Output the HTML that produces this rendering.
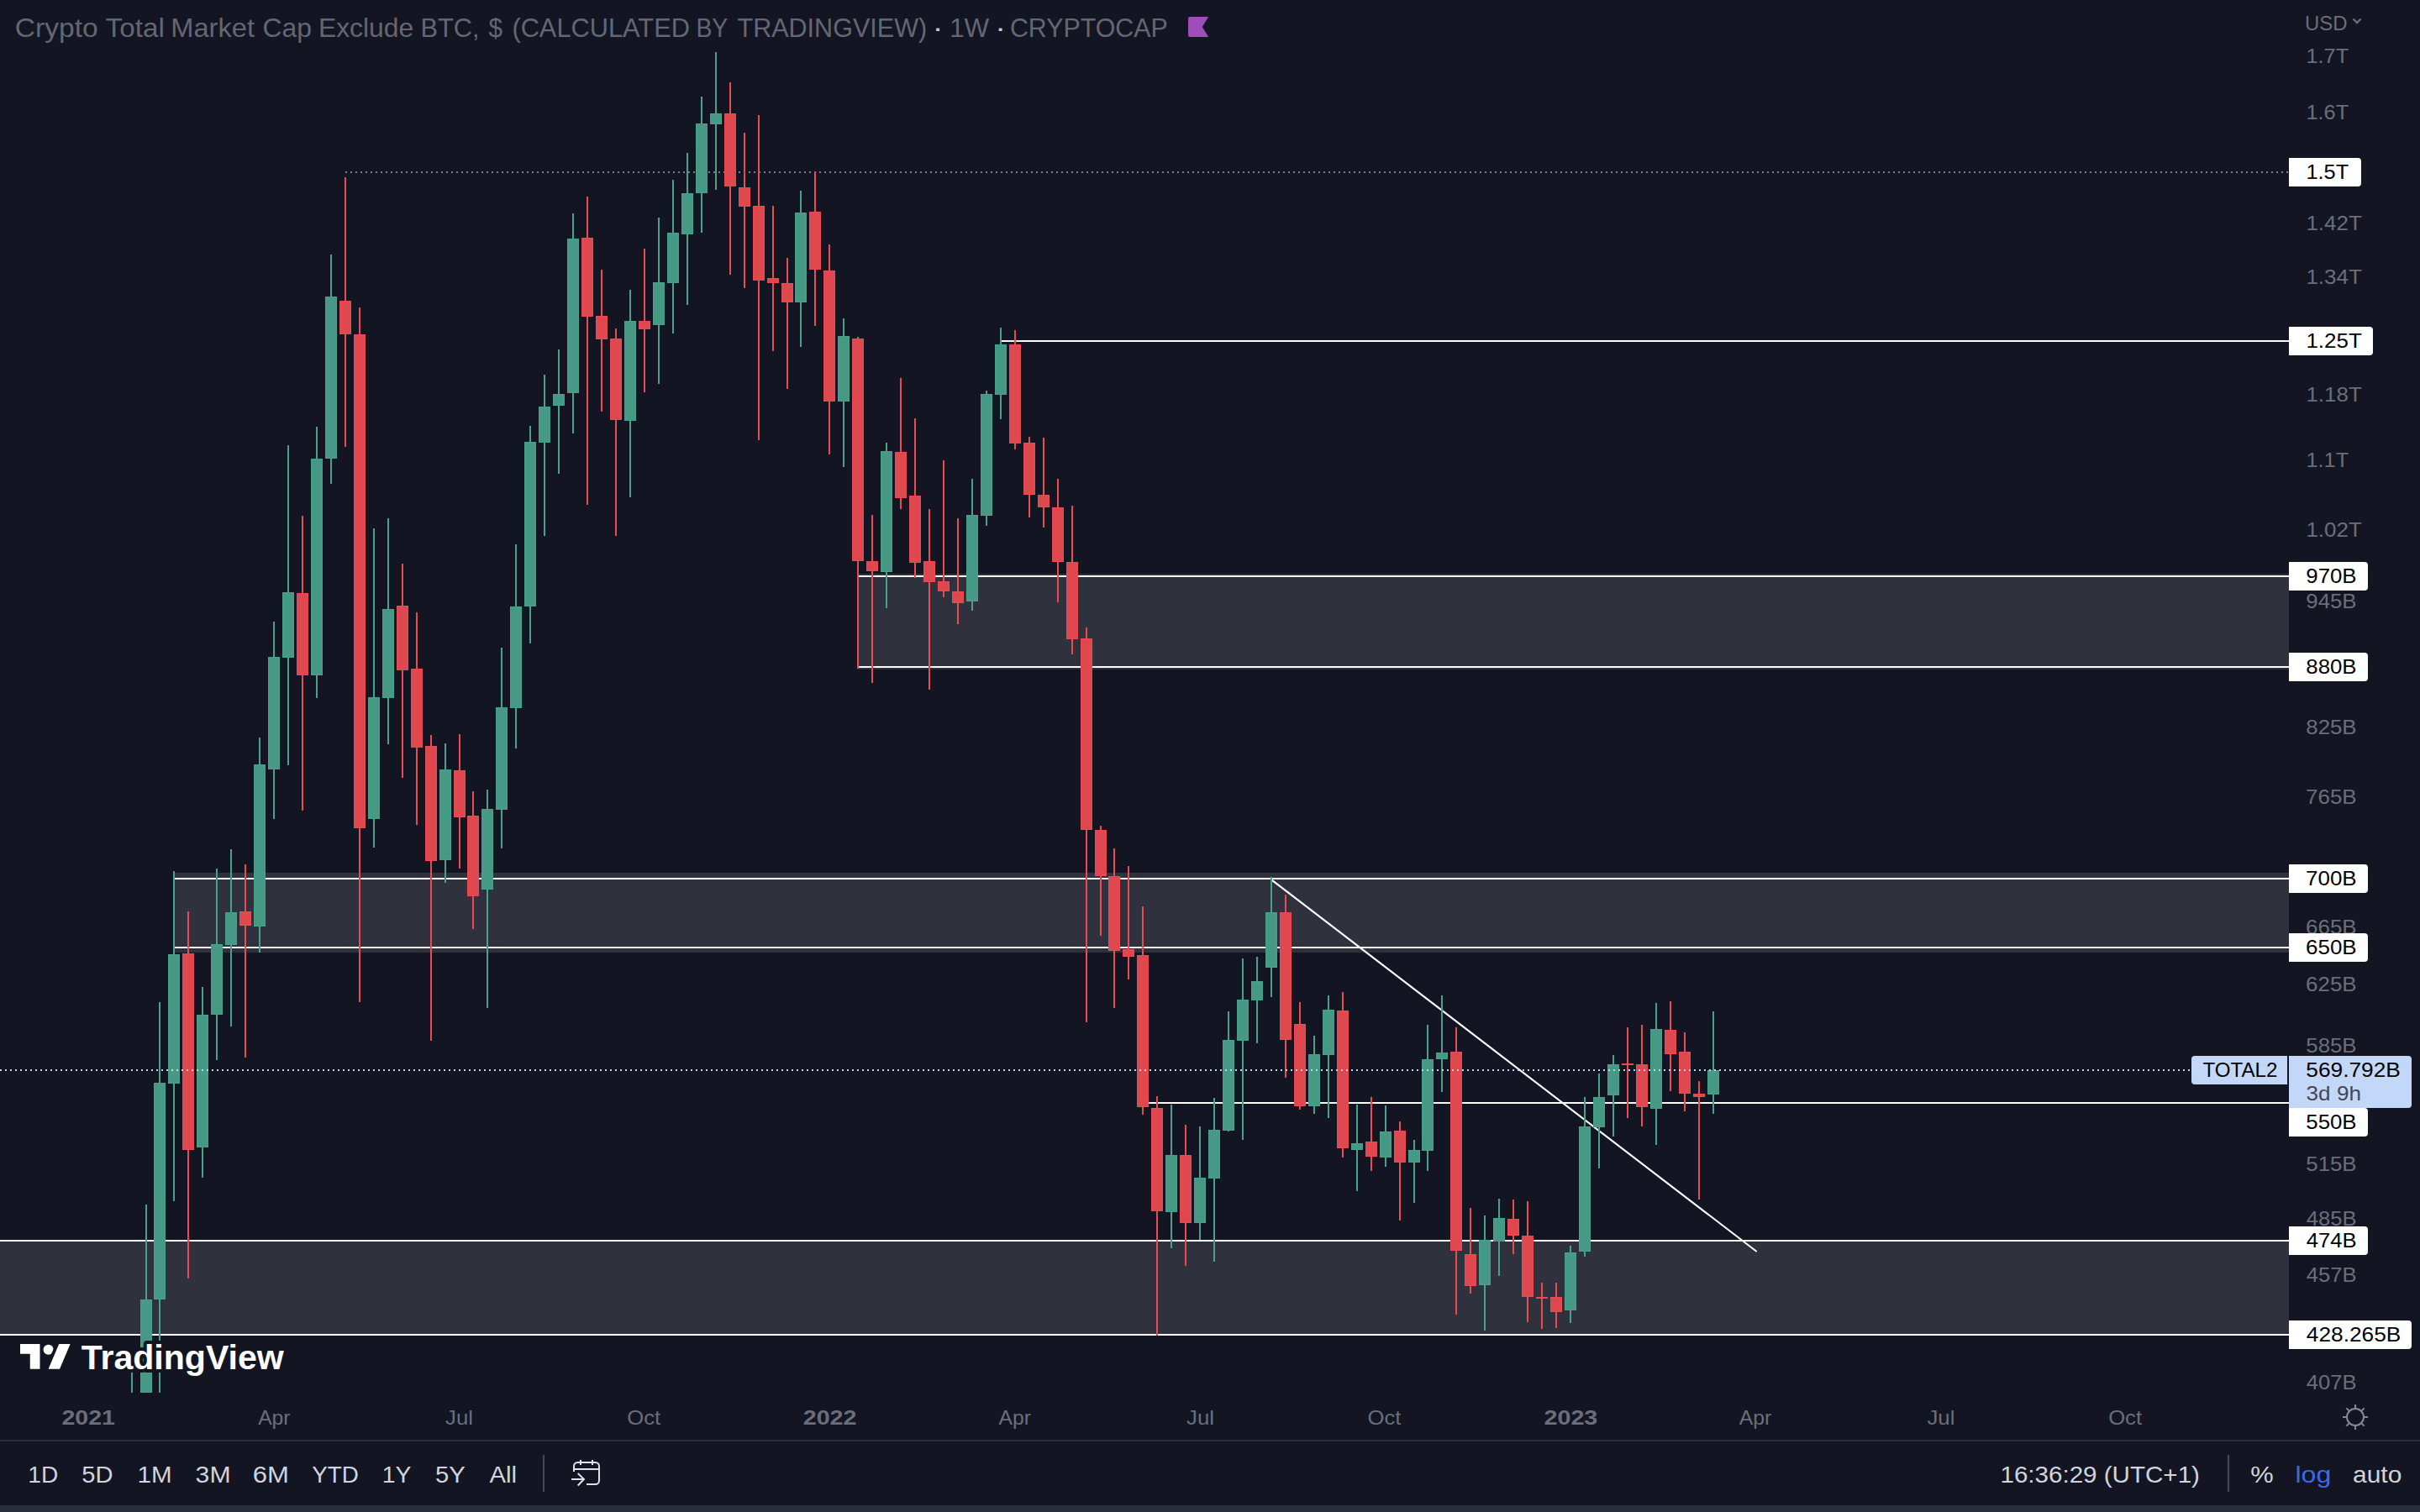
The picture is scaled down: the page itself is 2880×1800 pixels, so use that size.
<!DOCTYPE html>
<html lang="en"><head><meta charset="utf-8"><title>TOTAL2 chart</title>
<style>
html,body{margin:0;padding:0;background:#131622;}
body{width:2880px;height:1800px;overflow:hidden;position:relative;font-family:"Liberation Sans", Arial, sans-serif;}
svg{position:absolute;left:0;top:0;display:block}
text{font-family:"Liberation Sans", Arial, sans-serif;}
</style></head><body>
<svg width="2880" height="1800" viewBox="0 0 2880 1800" shape-rendering="crispEdges">
<defs><clipPath id="cp"><rect x="0" y="0" width="2724" height="1658"/></clipPath></defs>
<rect width="2880" height="1800" fill="#131622"/>
<g clip-path="url(#cp)">
<rect x="1021" y="683" width="1703" height="114" fill="#2f323c"/>
<rect x="1021" y="685" width="1703" height="2" fill="#fff"/>
<rect x="1021" y="793" width="1703" height="2" fill="#fff"/>
<rect x="207" y="1039" width="2517" height="95" fill="#2f323c"/>
<rect x="207" y="1045" width="2517" height="2" fill="#fff"/>
<rect x="207" y="1127" width="2517" height="2" fill="#fff"/>
<rect x="0" y="1477" width="2724" height="112" fill="#2f323c"/>
<rect x="0" y="1476" width="2724" height="2" fill="#fff"/>
<rect x="0" y="1588" width="2724" height="2" fill="#fff"/>
<line x1="411" y1="205" x2="2724" y2="205" stroke="#7d808a" stroke-width="2" stroke-dasharray="2 4"/>
<rect x="1191" y="405" width="1533" height="2" fill="#fff"/>
<rect x="1360" y="1312" width="1364" height="2" fill="#fff"/>
<line x1="1513.5" y1="1047.6" x2="2090" y2="1489.5" stroke="#fff" stroke-width="2.1" stroke-linecap="round" shape-rendering="geometricPrecision"/>
<rect x="156" y="1633" width="2" height="67" fill="#49a18b"/>
<rect x="150" y="1700" width="14" height="2" fill="#49a18b"/>
<rect x="173" y="1434" width="2" height="266" fill="#49a18b"/>
<rect x="167" y="1547" width="14" height="153" fill="#49a18b"/>
<rect x="168" y="1548" width="12" height="151" fill="#459985"/>
<rect x="189" y="1193" width="2" height="507" fill="#49a18b"/>
<rect x="183" y="1289" width="14" height="258" fill="#49a18b"/>
<rect x="184" y="1290" width="12" height="256" fill="#459985"/>
<rect x="206" y="1037" width="2" height="393" fill="#49a18b"/>
<rect x="200" y="1136" width="14" height="154" fill="#49a18b"/>
<rect x="201" y="1137" width="12" height="152" fill="#459985"/>
<rect x="223" y="1085" width="2" height="437" fill="#ea4b52"/>
<rect x="217" y="1135" width="14" height="234" fill="#ea4b52"/>
<rect x="218" y="1136" width="12" height="232" fill="#e0484f"/>
<rect x="240" y="1175" width="2" height="227" fill="#49a18b"/>
<rect x="234" y="1208" width="14" height="158" fill="#49a18b"/>
<rect x="235" y="1209" width="12" height="156" fill="#459985"/>
<rect x="257" y="1034" width="2" height="228" fill="#49a18b"/>
<rect x="251" y="1124" width="14" height="84" fill="#49a18b"/>
<rect x="252" y="1125" width="12" height="82" fill="#459985"/>
<rect x="274" y="1011" width="2" height="211" fill="#49a18b"/>
<rect x="268" y="1086" width="14" height="39" fill="#49a18b"/>
<rect x="269" y="1087" width="12" height="37" fill="#459985"/>
<rect x="291" y="1029" width="2" height="230" fill="#ea4b52"/>
<rect x="285" y="1085" width="14" height="17" fill="#ea4b52"/>
<rect x="286" y="1086" width="12" height="15" fill="#e0484f"/>
<rect x="308" y="878" width="2" height="256" fill="#49a18b"/>
<rect x="302" y="910" width="14" height="193" fill="#49a18b"/>
<rect x="303" y="911" width="12" height="191" fill="#459985"/>
<rect x="325" y="740" width="2" height="235" fill="#49a18b"/>
<rect x="319" y="782" width="14" height="134" fill="#49a18b"/>
<rect x="320" y="783" width="12" height="132" fill="#459985"/>
<rect x="342" y="530" width="2" height="381" fill="#49a18b"/>
<rect x="336" y="705" width="14" height="78" fill="#49a18b"/>
<rect x="337" y="706" width="12" height="76" fill="#459985"/>
<rect x="359" y="614" width="2" height="351" fill="#ea4b52"/>
<rect x="353" y="706" width="14" height="98" fill="#ea4b52"/>
<rect x="354" y="707" width="12" height="96" fill="#e0484f"/>
<rect x="376" y="508" width="2" height="323" fill="#49a18b"/>
<rect x="370" y="546" width="14" height="258" fill="#49a18b"/>
<rect x="371" y="547" width="12" height="256" fill="#459985"/>
<rect x="393" y="303" width="2" height="273" fill="#49a18b"/>
<rect x="387" y="353" width="14" height="193" fill="#49a18b"/>
<rect x="388" y="354" width="12" height="191" fill="#459985"/>
<rect x="410" y="211" width="2" height="321" fill="#ea4b52"/>
<rect x="404" y="358" width="14" height="40" fill="#ea4b52"/>
<rect x="405" y="359" width="12" height="38" fill="#e0484f"/>
<rect x="427" y="366" width="2" height="827" fill="#ea4b52"/>
<rect x="421" y="398" width="14" height="588" fill="#ea4b52"/>
<rect x="422" y="399" width="12" height="586" fill="#e0484f"/>
<rect x="444" y="629" width="2" height="380" fill="#49a18b"/>
<rect x="438" y="830" width="14" height="145" fill="#49a18b"/>
<rect x="439" y="831" width="12" height="143" fill="#459985"/>
<rect x="461" y="617" width="2" height="269" fill="#49a18b"/>
<rect x="455" y="725" width="14" height="106" fill="#49a18b"/>
<rect x="456" y="726" width="12" height="104" fill="#459985"/>
<rect x="478" y="671" width="2" height="255" fill="#ea4b52"/>
<rect x="472" y="721" width="14" height="77" fill="#ea4b52"/>
<rect x="473" y="722" width="12" height="75" fill="#e0484f"/>
<rect x="495" y="729" width="2" height="253" fill="#ea4b52"/>
<rect x="489" y="796" width="14" height="94" fill="#ea4b52"/>
<rect x="490" y="797" width="12" height="92" fill="#e0484f"/>
<rect x="512" y="875" width="2" height="364" fill="#ea4b52"/>
<rect x="506" y="888" width="14" height="137" fill="#ea4b52"/>
<rect x="507" y="889" width="12" height="135" fill="#e0484f"/>
<rect x="529" y="885" width="2" height="166" fill="#49a18b"/>
<rect x="523" y="916" width="14" height="108" fill="#49a18b"/>
<rect x="524" y="917" width="12" height="106" fill="#459985"/>
<rect x="546" y="874" width="2" height="160" fill="#ea4b52"/>
<rect x="540" y="917" width="14" height="56" fill="#ea4b52"/>
<rect x="541" y="918" width="12" height="54" fill="#e0484f"/>
<rect x="562" y="942" width="2" height="164" fill="#ea4b52"/>
<rect x="556" y="971" width="14" height="96" fill="#ea4b52"/>
<rect x="557" y="972" width="12" height="94" fill="#e0484f"/>
<rect x="579" y="940" width="2" height="260" fill="#49a18b"/>
<rect x="573" y="963" width="14" height="96" fill="#49a18b"/>
<rect x="574" y="964" width="12" height="94" fill="#459985"/>
<rect x="596" y="771" width="2" height="239" fill="#49a18b"/>
<rect x="590" y="842" width="14" height="122" fill="#49a18b"/>
<rect x="591" y="843" width="12" height="120" fill="#459985"/>
<rect x="613" y="648" width="2" height="243" fill="#49a18b"/>
<rect x="607" y="722" width="14" height="121" fill="#49a18b"/>
<rect x="608" y="723" width="12" height="119" fill="#459985"/>
<rect x="630" y="507" width="2" height="259" fill="#49a18b"/>
<rect x="624" y="526" width="14" height="196" fill="#49a18b"/>
<rect x="625" y="527" width="12" height="194" fill="#459985"/>
<rect x="647" y="446" width="2" height="192" fill="#49a18b"/>
<rect x="641" y="484" width="14" height="43" fill="#49a18b"/>
<rect x="642" y="485" width="12" height="41" fill="#459985"/>
<rect x="664" y="416" width="2" height="148" fill="#49a18b"/>
<rect x="658" y="469" width="14" height="14" fill="#49a18b"/>
<rect x="659" y="470" width="12" height="12" fill="#459985"/>
<rect x="681" y="254" width="2" height="262" fill="#49a18b"/>
<rect x="675" y="284" width="14" height="184" fill="#49a18b"/>
<rect x="676" y="285" width="12" height="182" fill="#459985"/>
<rect x="698" y="234" width="2" height="367" fill="#ea4b52"/>
<rect x="692" y="283" width="14" height="94" fill="#ea4b52"/>
<rect x="693" y="284" width="12" height="92" fill="#e0484f"/>
<rect x="715" y="321" width="2" height="169" fill="#ea4b52"/>
<rect x="709" y="376" width="14" height="28" fill="#ea4b52"/>
<rect x="710" y="377" width="12" height="26" fill="#e0484f"/>
<rect x="732" y="391" width="2" height="247" fill="#ea4b52"/>
<rect x="726" y="403" width="14" height="97" fill="#ea4b52"/>
<rect x="727" y="404" width="12" height="95" fill="#e0484f"/>
<rect x="749" y="345" width="2" height="247" fill="#49a18b"/>
<rect x="743" y="382" width="14" height="119" fill="#49a18b"/>
<rect x="744" y="383" width="12" height="117" fill="#459985"/>
<rect x="766" y="296" width="2" height="171" fill="#ea4b52"/>
<rect x="760" y="382" width="14" height="10" fill="#ea4b52"/>
<rect x="761" y="383" width="12" height="8" fill="#e0484f"/>
<rect x="783" y="259" width="2" height="198" fill="#49a18b"/>
<rect x="777" y="336" width="14" height="51" fill="#49a18b"/>
<rect x="778" y="337" width="12" height="49" fill="#459985"/>
<rect x="800" y="214" width="2" height="183" fill="#49a18b"/>
<rect x="794" y="277" width="14" height="60" fill="#49a18b"/>
<rect x="795" y="278" width="12" height="58" fill="#459985"/>
<rect x="817" y="182" width="2" height="181" fill="#49a18b"/>
<rect x="811" y="230" width="14" height="49" fill="#49a18b"/>
<rect x="812" y="231" width="12" height="47" fill="#459985"/>
<rect x="834" y="115" width="2" height="162" fill="#49a18b"/>
<rect x="828" y="147" width="14" height="83" fill="#49a18b"/>
<rect x="829" y="148" width="12" height="81" fill="#459985"/>
<rect x="851" y="62" width="2" height="164" fill="#49a18b"/>
<rect x="845" y="135" width="14" height="13" fill="#49a18b"/>
<rect x="846" y="136" width="12" height="11" fill="#459985"/>
<rect x="868" y="98" width="2" height="229" fill="#ea4b52"/>
<rect x="862" y="135" width="14" height="87" fill="#ea4b52"/>
<rect x="863" y="136" width="12" height="85" fill="#e0484f"/>
<rect x="885" y="158" width="2" height="185" fill="#ea4b52"/>
<rect x="879" y="223" width="14" height="23" fill="#ea4b52"/>
<rect x="880" y="224" width="12" height="21" fill="#e0484f"/>
<rect x="902" y="137" width="2" height="387" fill="#ea4b52"/>
<rect x="896" y="245" width="14" height="89" fill="#ea4b52"/>
<rect x="897" y="246" width="12" height="87" fill="#e0484f"/>
<rect x="919" y="245" width="2" height="173" fill="#ea4b52"/>
<rect x="913" y="331" width="14" height="6" fill="#ea4b52"/>
<rect x="914" y="332" width="12" height="4" fill="#e0484f"/>
<rect x="936" y="307" width="2" height="156" fill="#ea4b52"/>
<rect x="930" y="337" width="14" height="23" fill="#ea4b52"/>
<rect x="931" y="338" width="12" height="21" fill="#e0484f"/>
<rect x="952" y="227" width="2" height="186" fill="#49a18b"/>
<rect x="946" y="253" width="14" height="107" fill="#49a18b"/>
<rect x="947" y="254" width="12" height="105" fill="#459985"/>
<rect x="969" y="204" width="2" height="184" fill="#ea4b52"/>
<rect x="963" y="252" width="14" height="69" fill="#ea4b52"/>
<rect x="964" y="253" width="12" height="67" fill="#e0484f"/>
<rect x="986" y="291" width="2" height="250" fill="#ea4b52"/>
<rect x="980" y="322" width="14" height="156" fill="#ea4b52"/>
<rect x="981" y="323" width="12" height="154" fill="#e0484f"/>
<rect x="1003" y="379" width="2" height="177" fill="#49a18b"/>
<rect x="997" y="400" width="14" height="78" fill="#49a18b"/>
<rect x="998" y="401" width="12" height="76" fill="#459985"/>
<rect x="1020" y="401" width="2" height="395" fill="#ea4b52"/>
<rect x="1014" y="403" width="14" height="265" fill="#ea4b52"/>
<rect x="1015" y="404" width="12" height="263" fill="#e0484f"/>
<rect x="1037" y="613" width="2" height="200" fill="#ea4b52"/>
<rect x="1031" y="668" width="14" height="12" fill="#ea4b52"/>
<rect x="1032" y="669" width="12" height="10" fill="#e0484f"/>
<rect x="1054" y="527" width="2" height="197" fill="#49a18b"/>
<rect x="1048" y="537" width="14" height="144" fill="#49a18b"/>
<rect x="1049" y="538" width="12" height="142" fill="#459985"/>
<rect x="1071" y="450" width="2" height="156" fill="#ea4b52"/>
<rect x="1065" y="538" width="14" height="55" fill="#ea4b52"/>
<rect x="1066" y="539" width="12" height="53" fill="#e0484f"/>
<rect x="1088" y="498" width="2" height="190" fill="#ea4b52"/>
<rect x="1082" y="590" width="14" height="80" fill="#ea4b52"/>
<rect x="1083" y="591" width="12" height="78" fill="#e0484f"/>
<rect x="1105" y="606" width="2" height="215" fill="#ea4b52"/>
<rect x="1099" y="668" width="14" height="25" fill="#ea4b52"/>
<rect x="1100" y="669" width="12" height="23" fill="#e0484f"/>
<rect x="1122" y="548" width="2" height="163" fill="#ea4b52"/>
<rect x="1116" y="692" width="14" height="12" fill="#ea4b52"/>
<rect x="1117" y="693" width="12" height="10" fill="#e0484f"/>
<rect x="1139" y="617" width="2" height="126" fill="#ea4b52"/>
<rect x="1133" y="704" width="14" height="14" fill="#ea4b52"/>
<rect x="1134" y="705" width="12" height="12" fill="#e0484f"/>
<rect x="1156" y="570" width="2" height="157" fill="#49a18b"/>
<rect x="1150" y="613" width="14" height="103" fill="#49a18b"/>
<rect x="1151" y="614" width="12" height="101" fill="#459985"/>
<rect x="1173" y="465" width="2" height="161" fill="#49a18b"/>
<rect x="1167" y="469" width="14" height="145" fill="#49a18b"/>
<rect x="1168" y="470" width="12" height="143" fill="#459985"/>
<rect x="1190" y="390" width="2" height="109" fill="#49a18b"/>
<rect x="1184" y="410" width="14" height="60" fill="#49a18b"/>
<rect x="1185" y="411" width="12" height="58" fill="#459985"/>
<rect x="1207" y="393" width="2" height="142" fill="#ea4b52"/>
<rect x="1201" y="410" width="14" height="118" fill="#ea4b52"/>
<rect x="1202" y="411" width="12" height="116" fill="#e0484f"/>
<rect x="1224" y="520" width="2" height="96" fill="#ea4b52"/>
<rect x="1218" y="527" width="14" height="62" fill="#ea4b52"/>
<rect x="1219" y="528" width="12" height="60" fill="#e0484f"/>
<rect x="1241" y="521" width="2" height="107" fill="#ea4b52"/>
<rect x="1235" y="589" width="14" height="15" fill="#ea4b52"/>
<rect x="1236" y="590" width="12" height="13" fill="#e0484f"/>
<rect x="1258" y="570" width="2" height="147" fill="#ea4b52"/>
<rect x="1252" y="604" width="14" height="65" fill="#ea4b52"/>
<rect x="1253" y="605" width="12" height="63" fill="#e0484f"/>
<rect x="1275" y="602" width="2" height="177" fill="#ea4b52"/>
<rect x="1269" y="669" width="14" height="92" fill="#ea4b52"/>
<rect x="1270" y="670" width="12" height="90" fill="#e0484f"/>
<rect x="1292" y="747" width="2" height="470" fill="#ea4b52"/>
<rect x="1286" y="760" width="14" height="228" fill="#ea4b52"/>
<rect x="1287" y="761" width="12" height="226" fill="#e0484f"/>
<rect x="1309" y="983" width="2" height="131" fill="#ea4b52"/>
<rect x="1303" y="988" width="14" height="55" fill="#ea4b52"/>
<rect x="1304" y="989" width="12" height="53" fill="#e0484f"/>
<rect x="1325" y="1010" width="2" height="190" fill="#ea4b52"/>
<rect x="1319" y="1043" width="14" height="89" fill="#ea4b52"/>
<rect x="1320" y="1044" width="12" height="87" fill="#e0484f"/>
<rect x="1342" y="1031" width="2" height="135" fill="#ea4b52"/>
<rect x="1336" y="1130" width="14" height="9" fill="#ea4b52"/>
<rect x="1337" y="1131" width="12" height="7" fill="#e0484f"/>
<rect x="1359" y="1079" width="2" height="248" fill="#ea4b52"/>
<rect x="1353" y="1137" width="14" height="181" fill="#ea4b52"/>
<rect x="1354" y="1138" width="12" height="179" fill="#e0484f"/>
<rect x="1376" y="1305" width="2" height="285" fill="#ea4b52"/>
<rect x="1370" y="1319" width="14" height="123" fill="#ea4b52"/>
<rect x="1371" y="1320" width="12" height="121" fill="#e0484f"/>
<rect x="1393" y="1315" width="2" height="171" fill="#49a18b"/>
<rect x="1387" y="1375" width="14" height="68" fill="#49a18b"/>
<rect x="1388" y="1376" width="12" height="66" fill="#459985"/>
<rect x="1410" y="1339" width="2" height="168" fill="#ea4b52"/>
<rect x="1404" y="1375" width="14" height="81" fill="#ea4b52"/>
<rect x="1405" y="1376" width="12" height="79" fill="#e0484f"/>
<rect x="1427" y="1341" width="2" height="135" fill="#49a18b"/>
<rect x="1421" y="1402" width="14" height="54" fill="#49a18b"/>
<rect x="1422" y="1403" width="12" height="52" fill="#459985"/>
<rect x="1444" y="1307" width="2" height="195" fill="#49a18b"/>
<rect x="1438" y="1345" width="14" height="58" fill="#49a18b"/>
<rect x="1439" y="1346" width="12" height="56" fill="#459985"/>
<rect x="1461" y="1204" width="2" height="143" fill="#49a18b"/>
<rect x="1455" y="1238" width="14" height="108" fill="#49a18b"/>
<rect x="1456" y="1239" width="12" height="106" fill="#459985"/>
<rect x="1478" y="1141" width="2" height="216" fill="#49a18b"/>
<rect x="1472" y="1190" width="14" height="49" fill="#49a18b"/>
<rect x="1473" y="1191" width="12" height="47" fill="#459985"/>
<rect x="1495" y="1139" width="2" height="103" fill="#49a18b"/>
<rect x="1489" y="1168" width="14" height="23" fill="#49a18b"/>
<rect x="1490" y="1169" width="12" height="21" fill="#459985"/>
<rect x="1512" y="1044" width="2" height="143" fill="#49a18b"/>
<rect x="1506" y="1086" width="14" height="66" fill="#49a18b"/>
<rect x="1507" y="1087" width="12" height="64" fill="#459985"/>
<rect x="1529" y="1065" width="2" height="218" fill="#ea4b52"/>
<rect x="1523" y="1086" width="14" height="152" fill="#ea4b52"/>
<rect x="1524" y="1087" width="12" height="150" fill="#e0484f"/>
<rect x="1546" y="1193" width="2" height="128" fill="#ea4b52"/>
<rect x="1540" y="1219" width="14" height="98" fill="#ea4b52"/>
<rect x="1541" y="1220" width="12" height="96" fill="#e0484f"/>
<rect x="1563" y="1233" width="2" height="93" fill="#49a18b"/>
<rect x="1557" y="1255" width="14" height="62" fill="#49a18b"/>
<rect x="1558" y="1256" width="12" height="60" fill="#459985"/>
<rect x="1580" y="1185" width="2" height="146" fill="#49a18b"/>
<rect x="1574" y="1202" width="14" height="54" fill="#49a18b"/>
<rect x="1575" y="1203" width="12" height="52" fill="#459985"/>
<rect x="1597" y="1181" width="2" height="197" fill="#ea4b52"/>
<rect x="1591" y="1203" width="14" height="164" fill="#ea4b52"/>
<rect x="1592" y="1204" width="12" height="162" fill="#e0484f"/>
<rect x="1614" y="1315" width="2" height="103" fill="#49a18b"/>
<rect x="1608" y="1361" width="14" height="8" fill="#49a18b"/>
<rect x="1609" y="1362" width="12" height="6" fill="#459985"/>
<rect x="1631" y="1306" width="2" height="88" fill="#ea4b52"/>
<rect x="1625" y="1359" width="14" height="18" fill="#ea4b52"/>
<rect x="1626" y="1360" width="12" height="16" fill="#e0484f"/>
<rect x="1648" y="1316" width="2" height="73" fill="#49a18b"/>
<rect x="1642" y="1347" width="14" height="31" fill="#49a18b"/>
<rect x="1643" y="1348" width="12" height="29" fill="#459985"/>
<rect x="1665" y="1335" width="2" height="118" fill="#ea4b52"/>
<rect x="1659" y="1346" width="14" height="38" fill="#ea4b52"/>
<rect x="1660" y="1347" width="12" height="36" fill="#e0484f"/>
<rect x="1682" y="1357" width="2" height="75" fill="#49a18b"/>
<rect x="1676" y="1369" width="14" height="15" fill="#49a18b"/>
<rect x="1677" y="1370" width="12" height="13" fill="#459985"/>
<rect x="1698" y="1220" width="2" height="174" fill="#49a18b"/>
<rect x="1692" y="1261" width="14" height="109" fill="#49a18b"/>
<rect x="1693" y="1262" width="12" height="107" fill="#459985"/>
<rect x="1715" y="1185" width="2" height="115" fill="#49a18b"/>
<rect x="1709" y="1253" width="14" height="8" fill="#49a18b"/>
<rect x="1710" y="1254" width="12" height="6" fill="#459985"/>
<rect x="1732" y="1223" width="2" height="342" fill="#ea4b52"/>
<rect x="1726" y="1252" width="14" height="237" fill="#ea4b52"/>
<rect x="1727" y="1253" width="12" height="235" fill="#e0484f"/>
<rect x="1749" y="1438" width="2" height="102" fill="#ea4b52"/>
<rect x="1743" y="1493" width="14" height="38" fill="#ea4b52"/>
<rect x="1744" y="1494" width="12" height="36" fill="#e0484f"/>
<rect x="1766" y="1447" width="2" height="137" fill="#49a18b"/>
<rect x="1760" y="1476" width="14" height="54" fill="#49a18b"/>
<rect x="1761" y="1477" width="12" height="52" fill="#459985"/>
<rect x="1783" y="1427" width="2" height="92" fill="#49a18b"/>
<rect x="1777" y="1450" width="14" height="28" fill="#49a18b"/>
<rect x="1778" y="1451" width="12" height="26" fill="#459985"/>
<rect x="1800" y="1428" width="2" height="65" fill="#ea4b52"/>
<rect x="1794" y="1451" width="14" height="20" fill="#ea4b52"/>
<rect x="1795" y="1452" width="12" height="18" fill="#e0484f"/>
<rect x="1817" y="1430" width="2" height="144" fill="#ea4b52"/>
<rect x="1811" y="1471" width="14" height="73" fill="#ea4b52"/>
<rect x="1812" y="1472" width="12" height="71" fill="#e0484f"/>
<rect x="1834" y="1527" width="2" height="55" fill="#ea4b52"/>
<rect x="1828" y="1544" width="14" height="2" fill="#ea4b52"/>
<rect x="1851" y="1527" width="2" height="54" fill="#ea4b52"/>
<rect x="1845" y="1544" width="14" height="18" fill="#ea4b52"/>
<rect x="1846" y="1545" width="12" height="16" fill="#e0484f"/>
<rect x="1868" y="1483" width="2" height="92" fill="#49a18b"/>
<rect x="1862" y="1491" width="14" height="69" fill="#49a18b"/>
<rect x="1863" y="1492" width="12" height="67" fill="#459985"/>
<rect x="1885" y="1306" width="2" height="190" fill="#49a18b"/>
<rect x="1879" y="1341" width="14" height="149" fill="#49a18b"/>
<rect x="1880" y="1342" width="12" height="147" fill="#459985"/>
<rect x="1902" y="1278" width="2" height="113" fill="#49a18b"/>
<rect x="1896" y="1306" width="14" height="36" fill="#49a18b"/>
<rect x="1897" y="1307" width="12" height="34" fill="#459985"/>
<rect x="1919" y="1256" width="2" height="97" fill="#49a18b"/>
<rect x="1913" y="1267" width="14" height="37" fill="#49a18b"/>
<rect x="1914" y="1268" width="12" height="35" fill="#459985"/>
<rect x="1936" y="1223" width="2" height="108" fill="#ea4b52"/>
<rect x="1930" y="1266" width="14" height="2" fill="#ea4b52"/>
<rect x="1953" y="1220" width="2" height="121" fill="#ea4b52"/>
<rect x="1947" y="1267" width="14" height="51" fill="#ea4b52"/>
<rect x="1948" y="1268" width="12" height="49" fill="#e0484f"/>
<rect x="1970" y="1194" width="2" height="169" fill="#49a18b"/>
<rect x="1964" y="1225" width="14" height="95" fill="#49a18b"/>
<rect x="1965" y="1226" width="12" height="93" fill="#459985"/>
<rect x="1987" y="1192" width="2" height="107" fill="#ea4b52"/>
<rect x="1981" y="1226" width="14" height="29" fill="#ea4b52"/>
<rect x="1982" y="1227" width="12" height="27" fill="#e0484f"/>
<rect x="2004" y="1229" width="2" height="94" fill="#ea4b52"/>
<rect x="1998" y="1252" width="14" height="50" fill="#ea4b52"/>
<rect x="1999" y="1253" width="12" height="48" fill="#e0484f"/>
<rect x="2021" y="1287" width="2" height="141" fill="#ea4b52"/>
<rect x="2015" y="1302" width="14" height="4" fill="#ea4b52"/>
<rect x="2016" y="1303" width="12" height="2" fill="#e0484f"/>
<rect x="2038" y="1204" width="2" height="122" fill="#49a18b"/>
<rect x="2032" y="1274" width="14" height="29" fill="#49a18b"/>
<rect x="2033" y="1275" width="12" height="27" fill="#459985"/>
<line x1="0" y1="1274" x2="2608" y2="1274" stroke="#c3d4f5" stroke-width="2" stroke-dasharray="2 4"/>
</g>
<g shape-rendering="geometricPrecision" fill="#fff" stroke="#131622" paint-order="stroke" stroke-linejoin="round">
<g transform="translate(24,1593.5) scale(1.68,1.65)" stroke-width="4.5"><path d="M14 22H7V11H0V4h14v18z"/><circle cx="20" cy="8" r="3.6"/><path d="M28 22h-8l7.5-18h8L28 22z"/></g>
<text x="96.69" y="1630.0" font-size="40.5" font-weight="700" fill="#fff" textLength="240.99" lengthAdjust="spacingAndGlyphs" stroke-width="8">TradingView</text></g>
<g shape-rendering="geometricPrecision">
<text x="17.72" y="44.0" font-size="32" fill="#646773" textLength="98.99" lengthAdjust="spacingAndGlyphs">Crypto</text>
<text x="125.62" y="44.0" font-size="32" fill="#646773" textLength="70.15" lengthAdjust="spacingAndGlyphs">Total</text>
<text x="203.35" y="44.0" font-size="32" fill="#646773" textLength="99.59" lengthAdjust="spacingAndGlyphs">Market</text>
<text x="312.40" y="44.0" font-size="32" fill="#646773" textLength="58.60" lengthAdjust="spacingAndGlyphs">Cap</text>
<text x="378.91" y="44.0" font-size="32" fill="#646773" textLength="113.33" lengthAdjust="spacingAndGlyphs">Exclude</text>
<text x="500.40" y="44.0" font-size="32" fill="#646773" textLength="70.08" lengthAdjust="spacingAndGlyphs">BTC,</text>
<text x="581.47" y="44.0" font-size="32" fill="#646773" textLength="16.44" lengthAdjust="spacingAndGlyphs">$</text>
<text x="609.38" y="44.0" font-size="32" fill="#646773" textLength="211.56" lengthAdjust="spacingAndGlyphs">(CALCULATED</text>
<text x="828.38" y="44.0" font-size="32" fill="#646773" textLength="37.93" lengthAdjust="spacingAndGlyphs">BY</text>
<text x="877.48" y="44.0" font-size="32" fill="#646773" textLength="225.67" lengthAdjust="spacingAndGlyphs">TRADINGVIEW)</text>
<text x="1130.15" y="44.0" font-size="32" fill="#646773" textLength="47.05" lengthAdjust="spacingAndGlyphs">1W</text>
<text x="1201.98" y="44.0" font-size="32" fill="#646773" textLength="187.67" lengthAdjust="spacingAndGlyphs">CRYPTOCAP</text>
<text x="1109.58" y="44.0" font-size="32" fill="#c9ccd4" textLength="13.12" lengthAdjust="spacingAndGlyphs">·</text>
<text x="1183.98" y="44.0" font-size="32" fill="#c9ccd4" textLength="13.12" lengthAdjust="spacingAndGlyphs">·</text>
<text x="2744.45" y="74.9" font-size="24" fill="#6b6e7a" textLength="50.71" lengthAdjust="spacingAndGlyphs">1.7T</text>
<text x="2744.45" y="142.0" font-size="24" fill="#6b6e7a" textLength="50.71" lengthAdjust="spacingAndGlyphs">1.6T</text>
<text x="2744.41" y="274.2" font-size="24" fill="#6b6e7a" textLength="66.37" lengthAdjust="spacingAndGlyphs">1.42T</text>
<text x="2744.41" y="337.9" font-size="24" fill="#6b6e7a" textLength="66.37" lengthAdjust="spacingAndGlyphs">1.34T</text>
<text x="2744.41" y="478.2" font-size="24" fill="#6b6e7a" textLength="66.37" lengthAdjust="spacingAndGlyphs">1.18T</text>
<text x="2744.45" y="555.7" font-size="24" fill="#6b6e7a" textLength="50.71" lengthAdjust="spacingAndGlyphs">1.1T</text>
<text x="2744.41" y="638.8" font-size="24" fill="#6b6e7a" textLength="66.37" lengthAdjust="spacingAndGlyphs">1.02T</text>
<text x="2744.32" y="724.2" font-size="24" fill="#6b6e7a" textLength="60.29" lengthAdjust="spacingAndGlyphs">945B</text>
<text x="2744.32" y="873.7" font-size="24" fill="#6b6e7a" textLength="60.29" lengthAdjust="spacingAndGlyphs">825B</text>
<text x="2744.05" y="957.1" font-size="24" fill="#6b6e7a" textLength="60.57" lengthAdjust="spacingAndGlyphs">765B</text>
<text x="2744.05" y="1112.3" font-size="24" fill="#6b6e7a" textLength="60.57" lengthAdjust="spacingAndGlyphs">665B</text>
<text x="2744.05" y="1180.3" font-size="24" fill="#6b6e7a" textLength="60.57" lengthAdjust="spacingAndGlyphs">625B</text>
<text x="2744.32" y="1253.2" font-size="24" fill="#6b6e7a" textLength="60.29" lengthAdjust="spacingAndGlyphs">585B</text>
<text x="2744.32" y="1394.3" font-size="24" fill="#6b6e7a" textLength="60.29" lengthAdjust="spacingAndGlyphs">515B</text>
<text x="2744.87" y="1459.4" font-size="24" fill="#6b6e7a" textLength="59.73" lengthAdjust="spacingAndGlyphs">485B</text>
<text x="2744.87" y="1526.1" font-size="24" fill="#6b6e7a" textLength="59.73" lengthAdjust="spacingAndGlyphs">457B</text>
<text x="2744.87" y="1654.1" font-size="24" fill="#6b6e7a" textLength="59.73" lengthAdjust="spacingAndGlyphs">407B</text>
<text x="2742.98" y="36.0" font-size="23" fill="#6b6e7a" textLength="50.53" lengthAdjust="spacingAndGlyphs">USD</text>
<text x="33.29" y="1765.0" font-size="28" fill="#d1d4dc" textLength="35.91" lengthAdjust="spacingAndGlyphs">1D</text>
<text x="97.30" y="1765.0" font-size="28" fill="#d1d4dc" textLength="37.25" lengthAdjust="spacingAndGlyphs">5D</text>
<text x="163.59" y="1765.0" font-size="28" fill="#d1d4dc" textLength="41.09" lengthAdjust="spacingAndGlyphs">1M</text>
<text x="232.62" y="1765.0" font-size="28" fill="#d1d4dc" textLength="41.90" lengthAdjust="spacingAndGlyphs">3M</text>
<text x="300.84" y="1765.0" font-size="28" fill="#d1d4dc" textLength="43.16" lengthAdjust="spacingAndGlyphs">6M</text>
<text x="371.26" y="1765.0" font-size="28" fill="#d1d4dc" textLength="55.59" lengthAdjust="spacingAndGlyphs">YTD</text>
<text x="454.77" y="1765.0" font-size="28" fill="#d1d4dc" textLength="34.68" lengthAdjust="spacingAndGlyphs">1Y</text>
<text x="517.99" y="1765.0" font-size="28" fill="#d1d4dc" textLength="35.79" lengthAdjust="spacingAndGlyphs">5Y</text>
<text x="582.40" y="1765.0" font-size="28" fill="#d1d4dc" textLength="32.67" lengthAdjust="spacingAndGlyphs">All</text>
<text x="2380.49" y="1765.0" font-size="28" fill="#d1d4dc" textLength="237.44" lengthAdjust="spacingAndGlyphs">16:36:29 (UTC+1)</text>
<text x="2678.20" y="1765.0" font-size="28" fill="#d1d4dc" textLength="27.40" lengthAdjust="spacingAndGlyphs">%</text>
<text x="2800.06" y="1765.0" font-size="28" fill="#d1d4dc" textLength="58.27" lengthAdjust="spacingAndGlyphs">auto</text>
<text x="2731.49" y="1765.0" font-size="28" fill="#3c68f0" textLength="42.86" lengthAdjust="spacingAndGlyphs">log</text>
<text x="73.41" y="1695.8" font-size="24" font-weight="700" fill="#6b6e7a" textLength="63.45" lengthAdjust="spacingAndGlyphs">2021</text>
<text x="307.15" y="1695.8" font-size="24" fill="#6b6e7a" textLength="38.47" lengthAdjust="spacingAndGlyphs">Apr</text>
<text x="530.11" y="1695.8" font-size="24" fill="#6b6e7a" textLength="32.98" lengthAdjust="spacingAndGlyphs">Jul</text>
<text x="746.28" y="1695.8" font-size="24" fill="#6b6e7a" textLength="39.87" lengthAdjust="spacingAndGlyphs">Oct</text>
<text x="955.70" y="1695.8" font-size="24" font-weight="700" fill="#6b6e7a" textLength="63.76" lengthAdjust="spacingAndGlyphs">2022</text>
<text x="1188.45" y="1695.8" font-size="24" fill="#6b6e7a" textLength="38.47" lengthAdjust="spacingAndGlyphs">Apr</text>
<text x="1412.01" y="1695.8" font-size="24" fill="#6b6e7a" textLength="32.98" lengthAdjust="spacingAndGlyphs">Jul</text>
<text x="1627.58" y="1695.8" font-size="24" fill="#6b6e7a" textLength="39.87" lengthAdjust="spacingAndGlyphs">Oct</text>
<text x="1837.50" y="1695.8" font-size="24" font-weight="700" fill="#6b6e7a" textLength="63.76" lengthAdjust="spacingAndGlyphs">2023</text>
<text x="2069.75" y="1695.8" font-size="24" fill="#6b6e7a" textLength="38.47" lengthAdjust="spacingAndGlyphs">Apr</text>
<text x="2293.41" y="1695.8" font-size="24" fill="#6b6e7a" textLength="32.98" lengthAdjust="spacingAndGlyphs">Jul</text>
<text x="2509.18" y="1695.8" font-size="24" fill="#6b6e7a" textLength="39.87" lengthAdjust="spacingAndGlyphs">Oct</text>
<path d="M1416 20h22.2l-7.4 12 7.4 12H1416a2 2 0 0 1-2-2V22a2 2 0 0 1 2-2z" fill="#9f4db8"/>
<path d="M2800.5 22.5l4.5 4.5 4.5-4.5" fill="none" stroke="#6b6e7a" stroke-width="2.4"/>
<path d="M2724 188h82a4 4 0 0 1 4 4v26a4 4 0 0 1-4 4h-82z" fill="#fff"/>
<path d="M2724 389h96a4 4 0 0 1 4 4v26a4 4 0 0 1-4 4h-96z" fill="#fff"/>
<path d="M2724 669h90a4 4 0 0 1 4 4v26a4 4 0 0 1-4 4h-90z" fill="#fff"/>
<path d="M2724 777h90a4 4 0 0 1 4 4v26a4 4 0 0 1-4 4h-90z" fill="#fff"/>
<path d="M2724 1029h90a4 4 0 0 1 4 4v26a4 4 0 0 1-4 4h-90z" fill="#fff"/>
<path d="M2724 1111h90a4 4 0 0 1 4 4v26a4 4 0 0 1-4 4h-90z" fill="#fff"/>
<path d="M2724 1319h90a4 4 0 0 1 4 4v26a4 4 0 0 1-4 4h-90z" fill="#fff"/>
<path d="M2724 1460h90a4 4 0 0 1 4 4v26a4 4 0 0 1-4 4h-90z" fill="#fff"/>
<path d="M2724 1572h142a4 4 0 0 1 4 4v26a4 4 0 0 1-4 4h-142z" fill="#fff"/>
<path d="M2724 1257h142a4 4 0 0 1 4 4v54a4 4 0 0 1-4 4h-142z" fill="#c3d7f9"/>
<path d="M2722 1257h-110a4 4 0 0 0-4 4v26a4 4 0 0 0 4 4h110z" fill="#c3d7f9"/>
<text x="2744.45" y="213.2" font-size="24" fill="#000" textLength="50.71" lengthAdjust="spacingAndGlyphs">1.5T</text>
<text x="2744.41" y="414.2" font-size="24" fill="#000" textLength="66.37" lengthAdjust="spacingAndGlyphs">1.25T</text>
<text x="2744.32" y="694.2" font-size="24" fill="#000" textLength="60.29" lengthAdjust="spacingAndGlyphs">970B</text>
<text x="2744.32" y="802.2" font-size="24" fill="#000" textLength="60.29" lengthAdjust="spacingAndGlyphs">880B</text>
<text x="2744.05" y="1054.2" font-size="24" fill="#000" textLength="60.57" lengthAdjust="spacingAndGlyphs">700B</text>
<text x="2744.05" y="1136.2" font-size="24" fill="#000" textLength="60.57" lengthAdjust="spacingAndGlyphs">650B</text>
<text x="2744.32" y="1344.2" font-size="24" fill="#000" textLength="60.29" lengthAdjust="spacingAndGlyphs">550B</text>
<text x="2744.87" y="1485.2" font-size="24" fill="#000" textLength="59.73" lengthAdjust="spacingAndGlyphs">474B</text>
<text x="2744.85" y="1597.2" font-size="24" fill="#000" textLength="112.53" lengthAdjust="spacingAndGlyphs">428.265B</text>
<text x="2621.40" y="1282.2" font-size="24" fill="#000" textLength="88.94" lengthAdjust="spacingAndGlyphs">TOTAL2</text>
<text x="2744.30" y="1282.2" font-size="24" fill="#000" textLength="112.58" lengthAdjust="spacingAndGlyphs">569.792B</text>
<text x="2744.61" y="1310.2" font-size="24" fill="#434755" textLength="65.29" lengthAdjust="spacingAndGlyphs">3d 9h</text>
<g stroke="#868996" stroke-width="2" fill="none"><circle cx="2803" cy="1687" r="10"/><line x1="2813.80" y1="1687.00" x2="2818.00" y2="1687.00"/><line x1="2810.64" y1="1694.64" x2="2813.61" y2="1697.61"/><line x1="2803.00" y1="1697.80" x2="2803.00" y2="1702.00"/><line x1="2795.36" y1="1694.64" x2="2792.39" y2="1697.61"/><line x1="2792.20" y1="1687.00" x2="2788.00" y2="1687.00"/><line x1="2795.36" y1="1679.36" x2="2792.39" y2="1676.39"/><line x1="2803.00" y1="1676.20" x2="2803.00" y2="1672.00"/><line x1="2810.64" y1="1679.36" x2="2813.61" y2="1676.39"/></g>
<g stroke="#dfe1e9" stroke-width="2" fill="none"><path d="M683 1752v-6.5a4.5 4.5 0 0 1 4.5-4.5h21a4.5 4.5 0 0 1 4.5 4.5v17a4.5 4.5 0 0 1-4.5 4.5H698"/><path d="M683 1749h30M691 1738v6M705 1738v6M680 1761h15M687.7 1754l7.3 7-7.3 7.5"/></g>
</g>
<rect x="0" y="1714" width="2880" height="2" fill="#2a2d3a"/>
<rect x="0" y="1792" width="2880" height="8" fill="#2a2d3a"/>
<rect x="646" y="1732" width="2" height="44" fill="#464956"/>
<rect x="2651" y="1732" width="2" height="44" fill="#464956"/>
</svg></body></html>
